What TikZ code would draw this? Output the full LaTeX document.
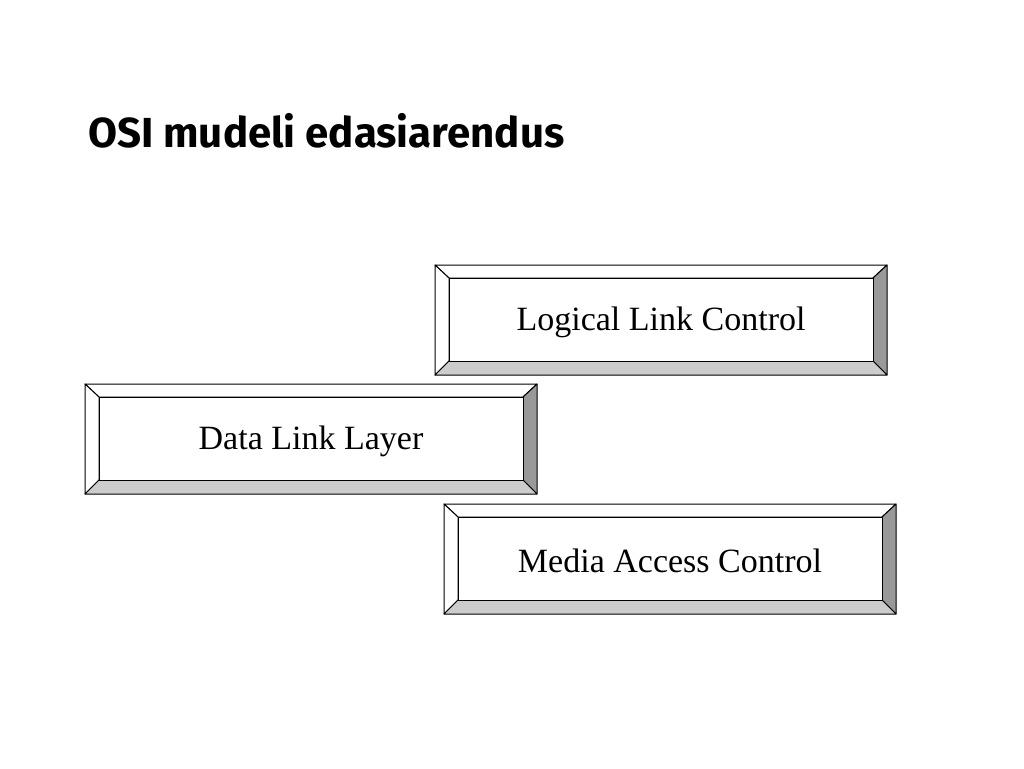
\documentclass[tikz,border=0pt]{standalone}
\usepackage{fontspec}
\setmainfont{Liberation Serif}
\newfontfamily\titlefont{Fira Sans}
\tikzset{
  bevel/.style={draw=black,line width=1pt,line join=round},
  boxlabel/.style={inner sep=0pt,font=\fontsize{34}{40}\selectfont}
}
\begin{document}
\begin{tikzpicture}[x=1pt,y=-1pt]
		\useasboundingbox[fill=white] (0,0) rectangle (1024,768);
		
		\node[anchor=base west,inner sep=0pt,font=\titlefont\bfseries\fontsize{42}{48}\selectfont] (title) at (88,147) {OSI mudeli edasiarendus};
		
		% Logical Link Control
		\draw[bevel,fill=white] (435,265) -- (887,265) -- (873,278) -- (449,278) -- cycle;
		\draw[bevel,fill=white] (435,265) -- (449,278) -- (449,361) -- (435,375) -- cycle;
		\draw[bevel,fill=black!40] (887,265) -- (887,375) -- (873,361) -- (873,278) -- cycle;
		\draw[bevel,fill=black!20] (435,375) -- (449,361) -- (873,361) -- (887,375) -- cycle;
		\draw[bevel,fill=white] (449,278) rectangle (873,361);
		\node[boxlabel] (llc) at (661,322) {Logical Link Control};
		
		% Data Link Layer
		\draw[bevel,fill=white] (85,384) -- (537,384) -- (523,397) -- (99,397) -- cycle;
		\draw[bevel,fill=white] (85,384) -- (99,397) -- (99,480) -- (85,494) -- cycle;
		\draw[bevel,fill=black!40] (537,384) -- (537,494) -- (523,480) -- (523,397) -- cycle;
		\draw[bevel,fill=black!20] (85,494) -- (99,480) -- (523,480) -- (537,494) -- cycle;
		\draw[bevel,fill=white] (99,397) rectangle (523,480);
		\node[boxlabel] (dll) at (311,441) {Data Link Layer};
		
		% Media Access Control
		\draw[bevel,fill=white] (444,504) -- (896,504) -- (882,517) -- (458,517) -- cycle;
		\draw[bevel,fill=white] (444,504) -- (458,517) -- (458,600) -- (444,614) -- cycle;
		\draw[bevel,fill=black!40] (896,504) -- (896,614) -- (882,600) -- (882,517) -- cycle;
		\draw[bevel,fill=black!20] (444,614) -- (458,600) -- (882,600) -- (896,614) -- cycle;
		\draw[bevel,fill=white] (458,517) rectangle (882,600);
		\node[boxlabel] (mac) at (670,561) {Media Access Control};
	\end{tikzpicture}
\end{document}
